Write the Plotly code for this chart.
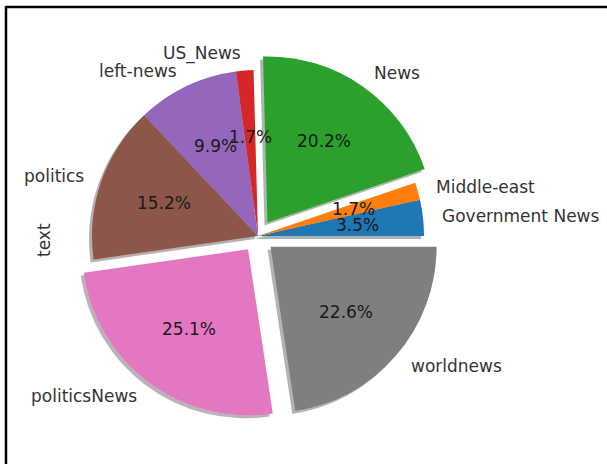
import numpy as np
import plotly.graph_objects as go

# ---- data ----
labels = ["Government News", "Middle-east", "News", "US_News",
          "left-news", "politics", "politicsNews", "worldnews"]
values = [3.5, 1.7, 20.2, 1.7, 9.9, 15.2, 25.1, 22.6]
explode = [0, 0, 0.1, 0, 0, 0, 0.1, 0.1]
colors = ["#1f77b4", "#ff7f0e", "#2ca02c", "#d62728",
          "#9467bd", "#8c564b", "#e377c2", "#7f7f7f"]
ylabel = "text"

# ---- layout geometry (pixels) ----
W, H = 607, 464
cx, cy = 258, 236          # pie centre (from top-left)
r = 166                    # pie radius
maxpull = max(explode)
half = r * (1 + maxpull)
dom_x = [(cx - half) / W, (cx + half) / W]
dom_y = [(H - cy - half) / H, (H - cy + half) / H]

def hex2rgba(h, f, a):
    h = h.lstrip("#")
    rr, gg, bb = (int(h[i:i + 2], 16) for i in (0, 2, 4))
    return f"rgba({int(rr*f)},{int(gg*f)},{int(bb*f)},{a})"

shadow_colors = [hex2rgba(c, 0.3, 0.35) for c in colors]
sx, sy = 3 / W, 3 / H

vals = np.array(values, dtype=float)
total = vals.sum()
# plotly's counterclockwise pies end the first slice at `rotation`;
# shift so the first slice starts at 3 o'clock like matplotlib's startangle=0
rotation = 90 - 360 * vals[0] / total

fig = go.Figure()

# shadow pie
fig.add_trace(go.Pie(
    labels=labels, values=values, sort=False, direction="counterclockwise",
    rotation=rotation, pull=explode, textinfo="none", hoverinfo="skip",
    marker=dict(colors=shadow_colors, line=dict(width=0)),
    domain=dict(x=[dom_x[0] - sx, dom_x[1] - sx], y=[dom_y[0] - sy, dom_y[1] - sy]),
    showlegend=False,
))

# main pie
fig.add_trace(go.Pie(
    labels=labels, values=values, sort=False, direction="counterclockwise",
    rotation=rotation, pull=explode, textinfo="none",
    marker=dict(colors=colors, line=dict(width=0)),
    domain=dict(x=dom_x, y=dom_y),
    showlegend=False,
))

# text positions derived from the data (matplotlib style: pct at 0.6, labels at 1.1)
cum = np.concatenate([[0], np.cumsum(vals)])
mid = np.deg2rad(360 * (cum[:-1] + cum[1:]) / 2 / total)
ex = np.array(explode)
ux, uy = np.cos(mid), np.sin(mid)
pct_x = (ex + 0.6) * ux
pct_y = (ex + 0.6) * uy
lab_x = (ex + 1.1) * ux
lab_y = (ex + 1.1) * uy
pct_text = [f"{v / total * 100:.1f}%" for v in vals]

annotations = []
for x, y, t in zip(pct_x, pct_y, pct_text):
    annotations.append(dict(
        x=x, y=y, xref="x", yref="y", text=t, showarrow=False,
        xanchor="center", yanchor="middle",
        font=dict(family="DejaVu Sans", size=17, color="#1a1a1a"),
    ))
for x, y, t in zip(lab_x, lab_y, labels):
    annotations.append(dict(
        x=x, y=y, xref="x", yref="y", text=t, showarrow=False,
        xanchor="left" if x > 0 else "right", yanchor="middle",
        font=dict(family="DejaVu Sans", size=17, color="#333333"),
    ))
annotations.append(dict(
    text=ylabel, x=44 / W, y=1 - 240 / H, xref="paper", yref="paper",
    showarrow=False, textangle=-90, xanchor="center", yanchor="middle",
    font=dict(family="DejaVu Sans", size=17, color="#333333"),
))

lim = 1 + maxpull
fig.update_layout(
    width=W, height=H, margin=dict(l=0, r=0, t=0, b=0),
    paper_bgcolor="white", plot_bgcolor="rgba(0,0,0,0)",
    xaxis=dict(domain=dom_x, range=[-lim, lim], visible=False, fixedrange=True),
    yaxis=dict(domain=dom_y, range=[-lim, lim], visible=False, fixedrange=True),
    annotations=annotations,
    shapes=[
        dict(type="line", xref="paper", yref="paper", x0=6 / W, x1=6 / W, y0=0, y1=1 - 6 / H,
             line=dict(color="black", width=2.5)),
        dict(type="line", xref="paper", yref="paper", x0=6 / W, x1=1, y0=1 - 7 / H, y1=1 - 7 / H,
             line=dict(color="black", width=2.5)),
    ],
)

fig.write_html("out.html")
